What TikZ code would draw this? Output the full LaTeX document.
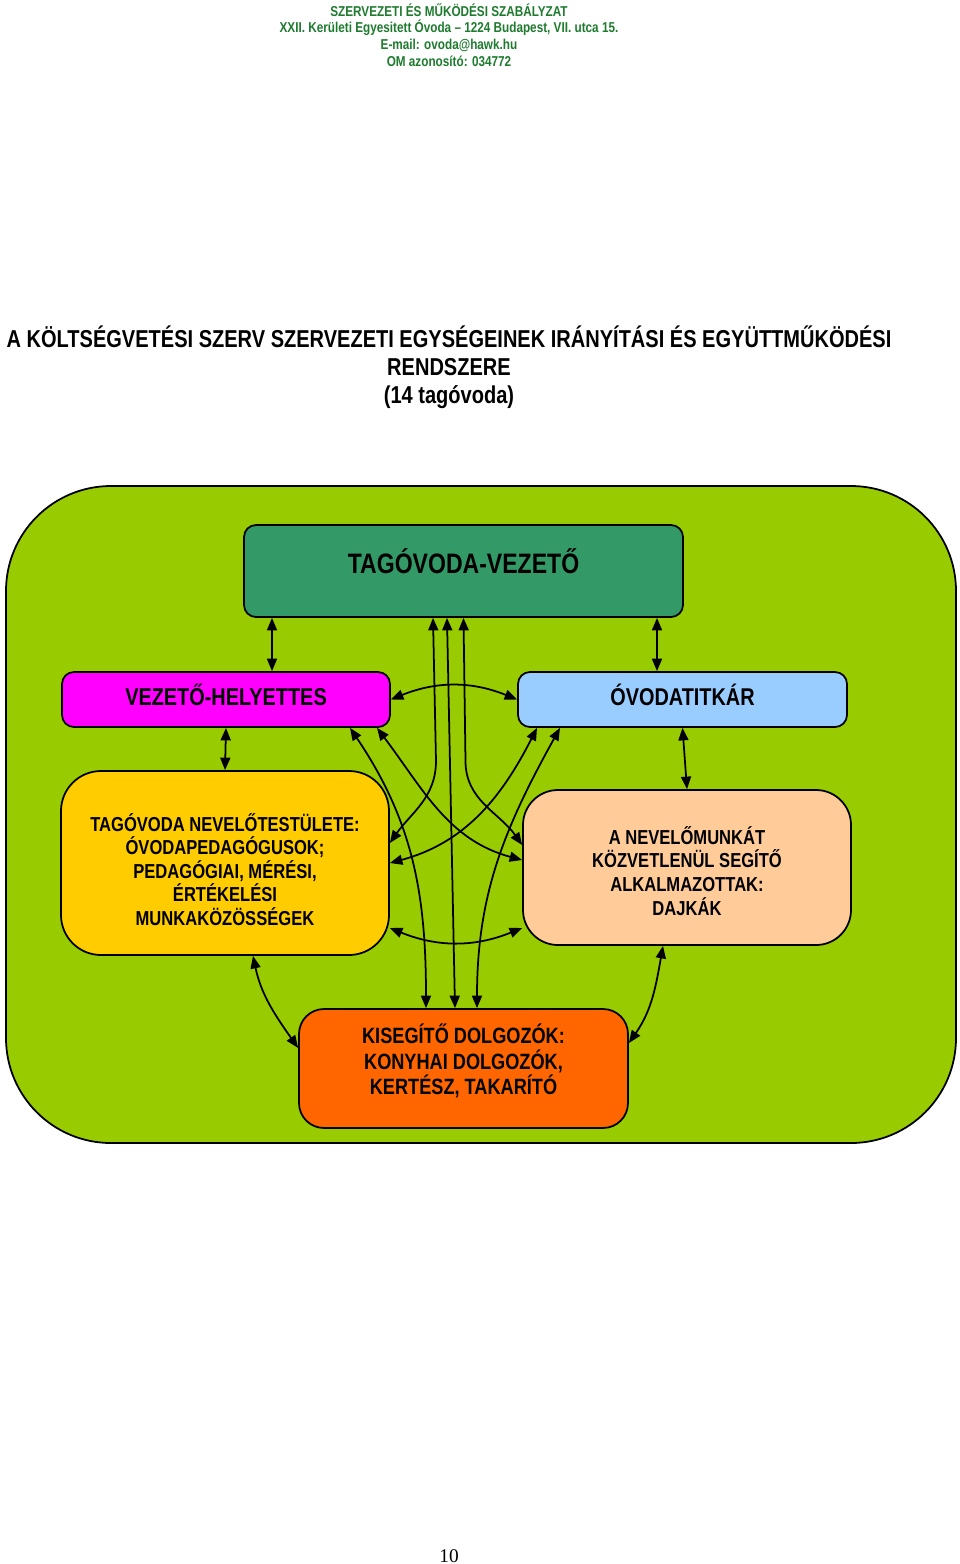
\documentclass[tikz,border=0pt]{standalone}
\usepackage{fontspec}
\setmainfont{Liberation Sans}[FakeStretch=0.82]
\newfontfamily\pagefont{Liberation Serif}
\usetikzlibrary{arrows.meta}
\definecolor{headGreen}{HTML}{1E7B2E}
\definecolor{unitGreen}{HTML}{99CC00}
\definecolor{vezGreen}{HTML}{339966}
\definecolor{helyPink}{HTML}{FF00FF}
\definecolor{titkBlue}{HTML}{99CCFF}
\definecolor{testYellow}{HTML}{FFCC00}
\definecolor{dajkPeach}{HTML}{FFCC99}
\definecolor{kisOrange}{HTML}{FF6600}

\begin{document}
\begin{tikzpicture}[every path/.append style={line width=1pt},
    box/.style={draw, rounded corners=0.24cm, inner sep=0pt, align=center, font=\bfseries\fontsize{11.5}{13.4}\selectfont},
    dbl/.style={<->}, >={Triangle[length=0.25cm,width=0.2cm]}]
			\useasboundingbox (0, 0) rectangle (19.2, -31.28);
			\node (head) at (8.98, -0.70) [font=\bfseries\fontsize{8.15}{9.5}\selectfont, text=headGreen, align=center] {SZERVEZETI ÉS MŰKÖDÉSI SZABÁLYZAT\\XXII. Kerületi Egyesitett Óvoda – 1224 Budapest, VII. utca 15.\\E-mail: ovoda@hawk.hu\\OM azonosító: 034772};
			\node (title) at (8.98, -7.34) [font=\bfseries\fontsize{13.9}{15.9}\selectfont, align=center] {A KÖLTSÉGVETÉSI SZERV SZERVEZETI EGYSÉGEINEK IRÁNYÍTÁSI ÉS EGYÜTTMŰKÖDÉSI\\RENDSZERE\\(14 tagóvoda)};
			\node (unit) at (9.62, -16.29) [box, fill=unitGreen, minimum width=19cm, minimum height=13.14cm, rounded corners=2.1cm] {};
			\node (vez)  at (9.27, -11.42) [box, fill=vezGreen, minimum width=8.78cm, minimum height=1.84cm, font=\bfseries\fontsize{16}{19}\selectfont, text height=0.42cm, text depth=0.32cm] {TAGÓVODA-VEZETŐ};
			\node (hely) at (4.52, -13.99) [box, fill=helyPink, minimum width=6.56cm, minimum height=1.10cm, font=\bfseries\fontsize{13.8}{16}\selectfont, text height=0.35cm, text depth=0.1cm] {VEZETŐ-HELYETTES};
			\node (titk) at (13.65, -13.99) [box, fill=titkBlue, minimum width=6.58cm, minimum height=1.10cm, font=\bfseries\fontsize{13.8}{16}\selectfont, text height=0.35cm, text depth=0.1cm] {ÓVODATITKÁR};
			\node (test) at (4.50, -17.26) [box, fill=testYellow, minimum width=6.56cm, minimum height=3.68cm, rounded corners=0.8cm] {\rule{0pt}{17.5pt}TAGÓVODA NEVELŐTESTÜLETE:\\ÓVODAPEDAGÓGUSOK;\\PEDAGÓGIAI, MÉRÉSI,\\ÉRTÉKELÉSI\\MUNKAKÖZÖSSÉGEK};
			\node (dajk) at (13.74, -17.35) [box, fill=dajkPeach, minimum width=6.56cm, minimum height=3.10cm, rounded corners=0.7cm] {\rule{0pt}{14pt}A NEVELŐMUNKÁT\\KÖZVETLENÜL SEGÍTŐ\\ALKALMAZOTTAK:\\DAJKÁK};
			\node (kis)  at (9.27, -21.37) [box, fill=kisOrange, minimum width=6.58cm, minimum height=2.38cm, rounded corners=0.5cm, font=\bfseries\fontsize{12.6}{14.5}\selectfont] {KISEGÍTŐ DOLGOZÓK:\\KONYHAI DOLGOZÓK,\\KERTÉSZ, TAKARÍTÓ\rule[-10.5pt]{0pt}{0pt}};
			\node (pnum) at (8.98, -31.12) [font=\pagefont\fontsize{11}{13}\selectfont] {10};
			\draw[dbl] ([xshift=-3.83cm]vez.south) -- ([xshift=0.92cm]hely.north);
			\draw[dbl] ([xshift=3.87cm]vez.south) -- ([xshift=-0.51cm]titk.north);
			\draw[dbl] (hely.south) -- (test.north);
			\draw[dbl] (titk.south) -- (dajk.north);
			\draw[dbl] (hely.east) to[bend left=22] (titk.west);
			\draw[dbl] ([yshift=-1.3cm]test.east) to[bend right=22] ([yshift=-1.21cm]dajk.west);
			\draw[dbl] ([xshift=0.56cm]test.south) to[out=-78, in=125] ([yshift=0.41cm]kis.west);
			\draw[dbl] ([xshift=-0.48cm]dajk.south) to[out=-100, in=55] ([yshift=0.51cm]kis.east);
			\draw[dbl] ([xshift=-0.61cm]vez.south) -- ++(0.06, -2.86) to[out=-90, in=55] ([yshift=0.4cm]test.east);
			\draw[dbl] ([xshift=-0.33cm]vez.south) -- ([xshift=-0.17cm]kis.north);
			\draw[dbl] (vez.south) -- ++(0.04, -2.86) to[out=-90, in=125] ([yshift=0.45cm]dajk.west);
			\draw[dbl] ([xshift=2.48cm]hely.south) to[out=-56, in=90] ([xshift=-0.75cm]kis.north);
			\draw[dbl] ([xshift=3.02cm]hely.south) to[out=-53, in=165] ([yshift=0.15cm]dajk.west);
			\draw[dbl] ([xshift=-2.91cm]titk.south) to[out=-117, in=15] (test.east);
			\draw[dbl] ([xshift=-2.45cm]titk.south) to[out=-119, in=90] ([xshift=0.27cm]kis.north);
		\end{tikzpicture}
\end{document}
